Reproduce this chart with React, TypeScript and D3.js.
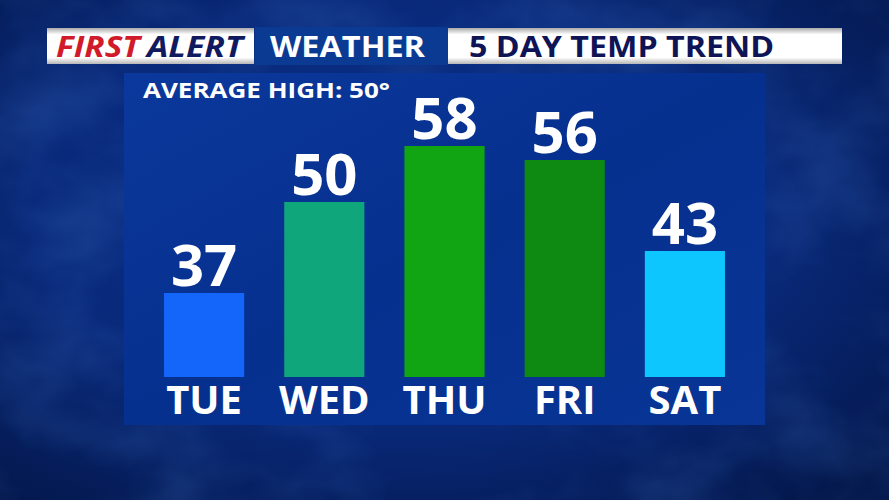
import React from "react";
import * as d3 from "d3";

const days = ["TUE", "WED", "THU", "FRI", "SAT"];
const highs = [37, 50, 58, 56, 43];
const barColors = ["#1466fb", "#10a67c", "#12a513", "#0e8a12", "#0cc6fd"];
const avgLabel = "AVERAGE HIGH: 50°";
const titleParts = ["FIRST", "ALERT", "WEATHER", "5 DAY TEMP TREND"];

const W = 889;
const H = 500;
const FONT = "'Open Sans', 'DejaVu Sans', sans-serif";

export default function App() {
  const x = d3.scaleBand<string>().domain(days).range([144, 745]).paddingInner(1 / 3).paddingOuter(1 / 6);
  const y = d3.scaleLinear().domain([25, 58]).range([377, 146]);

  return (
    <svg width={W} height={H} style={{ position: "absolute", left: 0, top: 0, display: "block" }}>
      <defs>
        <radialGradient id="bg" cx="0.45" cy="0.42" r="0.75">
          <stop offset="0" stopColor="#0b318c" />
          <stop offset="0.55" stopColor="#09297a" />
          <stop offset="1" stopColor="#03174a" />
        </radialGradient>
        <linearGradient id="panel" x1="0" y1="0" x2="1" y2="1">
          <stop offset="0" stopColor="#0b389c" />
          <stop offset="0.5" stopColor="#06308e" />
          <stop offset="1" stopColor="#083596" />
        </linearGradient>
        <linearGradient id="whiteBar" x1="0" y1="0" x2="0" y2="1">
          <stop offset="0" stopColor="#a9a9a9" />
          <stop offset="0.18" stopColor="#ffffff" />
          <stop offset="0.82" stopColor="#ffffff" />
          <stop offset="1" stopColor="#b5b5b5" />
        </linearGradient>
        <filter id="clouds" x="0" y="0" width="100%" height="100%">
          <feTurbulence type="fractalNoise" baseFrequency="0.008 0.012" numOctaves="4" seed="3" result="n" />
          <feColorMatrix
            in="n"
            type="matrix"
            values="0 0 0 0 0.06  0 0 0 0 0.2  0 0 0 0 0.62  0 0 0 1.6 -0.65"
          />
        </filter>
      </defs>

      <rect x={0} y={0} width={W} height={H} fill="url(#bg)" />
      <rect x={0} y={0} width={W} height={H} filter="url(#clouds)" opacity={0.3} />

      {/* header */}
      <rect x={47} y={28} width={207} height={36} fill="url(#whiteBar)" />
      <rect x={255} y={27} width={193} height={38} fill="#0b3a92" />
      <rect x={448} y={28} width={394} height={36} fill="url(#whiteBar)" />
      <text x={56} y={57} fontFamily={FONT} fontWeight={700} fontStyle="italic" fontSize={28} fill="#d11b2a"
        textLength={84} lengthAdjust="spacingAndGlyphs">{titleParts[0]}</text>
      <text x={147} y={57} fontFamily={FONT} fontWeight={700} fontStyle="italic" fontSize={28} fill="#101b5f"
        textLength={96} lengthAdjust="spacingAndGlyphs">{titleParts[1]}</text>
      <text x={270} y={57} fontFamily={FONT} fontWeight={700} fontSize={28} fill="#ffffff"
        textLength={155} lengthAdjust="spacingAndGlyphs">{titleParts[2]}</text>
      <text x={469} y={57} fontFamily={FONT} fontWeight={700} fontSize={28} fill="#0e1455"
        textLength={305} lengthAdjust="spacingAndGlyphs">{titleParts[3]}</text>

      {/* panel */}
      <rect x={124} y={73} width={641} height={352} fill="url(#panel)" />
      <text x={143} y={98} fontFamily={FONT} fontWeight={700} fontSize={22} fill="#ffffff"
        textLength={247} lengthAdjust="spacingAndGlyphs">{avgLabel}</text>

      {days.map((d, i) => {
        const bx = x(d)!;
        const bw = x.bandwidth();
        const top = y(highs[i]);
        const cx = bx + bw / 2;
        return (
          <g key={d}>
            <rect x={bx} y={top} width={bw} height={y(25) - top} fill={barColors[i]} />
            <text x={cx} y={top - 7} textAnchor="middle" fontFamily={FONT} fontWeight={700} fontSize={58} fill="#ffffff">
              {highs[i]}
            </text>
            <text x={cx} y={414} textAnchor="middle" fontFamily={FONT} fontWeight={700} fontSize={40} fill="#ffffff">
              {d}
            </text>
          </g>
        );
      })}
    </svg>
  );
}
